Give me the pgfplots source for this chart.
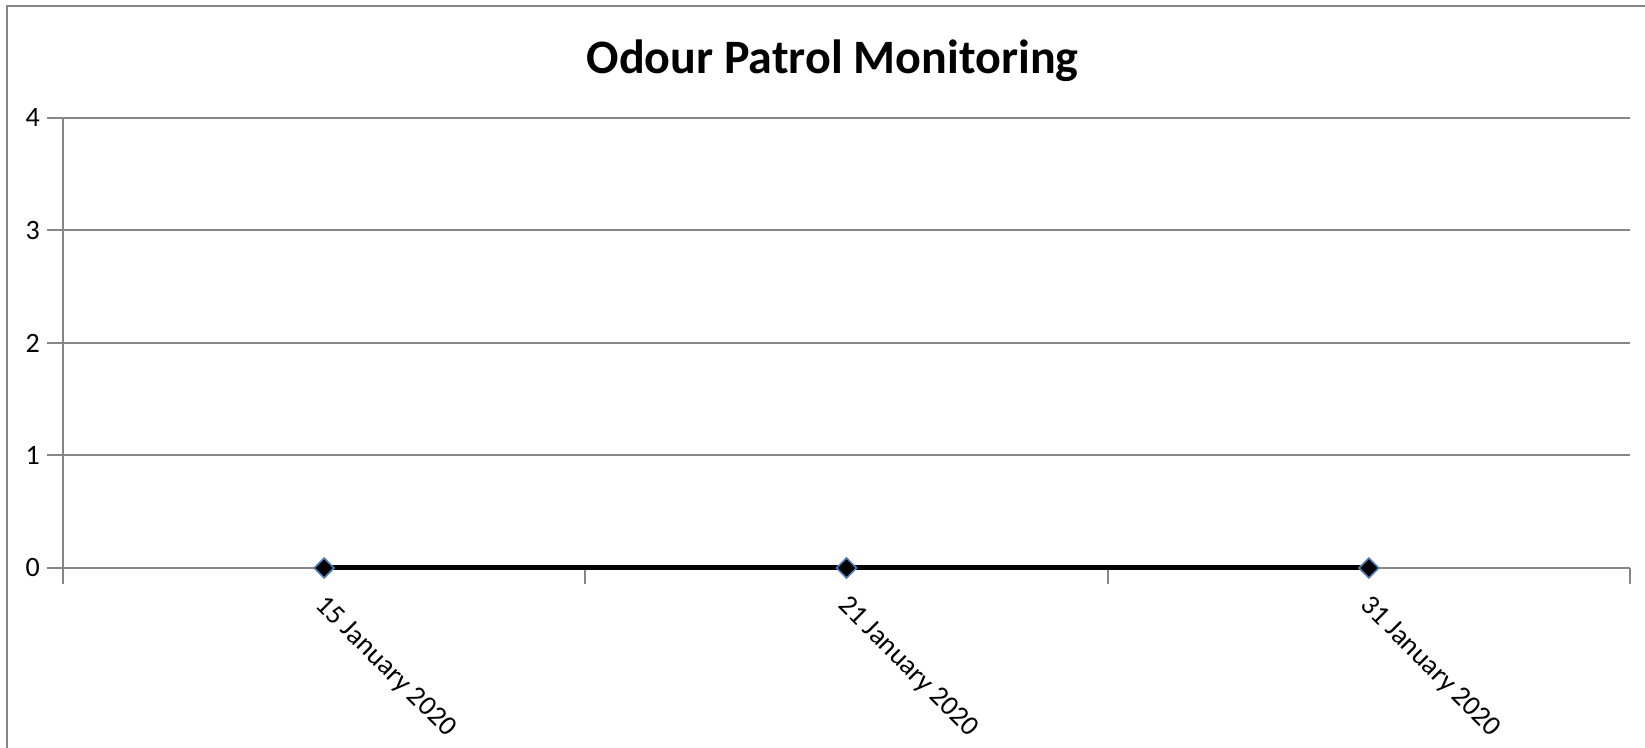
\documentclass[border=0pt]{standalone}
\usepackage{pgfplots}
\pgfplotsset{compat=1.18}
\usepackage{fontspec}
\setmainfont{Carlito}
\definecolor{gridgray}{HTML}{868686}
\definecolor{mkblue}{HTML}{4A7EBB}
\begin{document}
\begin{tikzpicture}
\useasboundingbox (-31.5pt,-90pt) rectangle (791pt,284pt);
\draw[gridgray, line width=1pt] (-27.75pt,-95pt) -- (-27.75pt,281pt) -- (795pt,281pt);
\begin{axis}[
  scale only axis,
  width=783.5pt, height=225pt,
  xmin=-0.5, xmax=2.5,
  ymin=0, ymax=4,
  ytick={0,1,2,3,4},
  xtick={-0.5,0.5,1.5,2.5},
  xticklabels={},
  extra x ticks={0,1,2},
  extra x tick labels={15 January 2020,21 January 2020,31 January 2020},
  extra x tick style={major tick length=0pt, xmajorgrids=false,
    xticklabel style={xshift=1.8pt, yshift=-12.5pt, rotate=-45, anchor=north west, inner sep=0pt}},
  axis line style={gridgray, line width=1pt},
  axis x line*=bottom,
  axis y line*=left,
  ymajorgrids,
  grid style={gridgray, line width=1pt},
  tick style={gridgray, line width=1pt},
  tick align=outside,
  major tick length=8pt,
  ticklabel style={font=\fontsize{14}{16}\selectfont, text=black},
  /pgf/number format/assume math mode=true,
  yticklabel style={xshift=0pt},
  title={Odour Patrol Monitoring},
  title style={font=\bfseries\fontsize{24}{28}\selectfont, at={(0.5,1)}, anchor=center, yshift=22.7pt, xshift=-7pt},
  clip=false,
]
\addplot[black, line width=2.5pt, mark=square*, mark size=3.5pt,
  mark options={rotate=45, fill=black, draw=mkblue, line width=0.8pt}]
  coordinates {(0,0) (1,0) (2,0)};
\end{axis}
\end{tikzpicture}
\end{document}
